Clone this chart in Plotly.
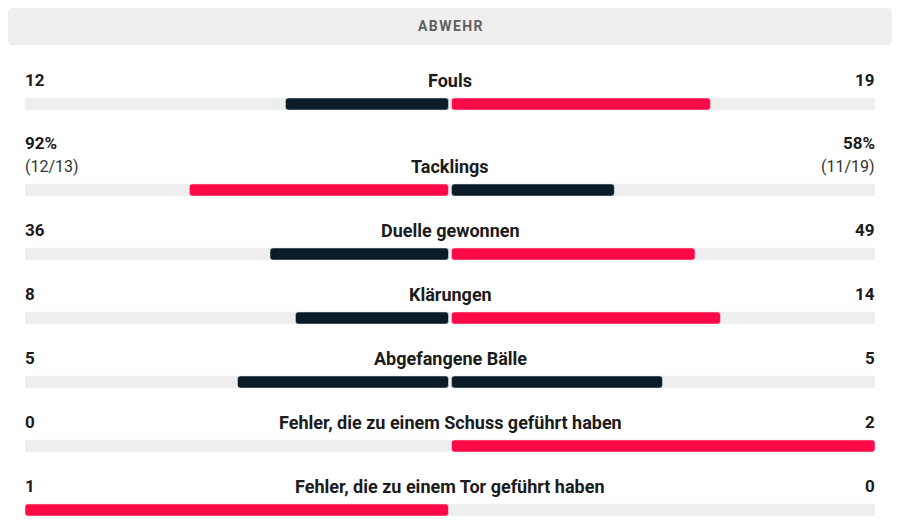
import plotly.graph_objects as go

# ---------------------------------------------------------
# Data
# ---------------------------------------------------------
header = "ABWEHR"
labels = ["Fouls", "Tacklings", "Duelle gewonnen", "Klärungen",
          "Abgefangene Bälle", "Fehler, die zu einem Schuss geführt haben",
          "Fehler, die zu einem Tor geführt haben"]
home_vals = [12, 92, 36, 8, 5, 0, 1]
away_vals = [19, 58, 49, 14, 5, 2, 0]
home_text = ["12", "92%", "36", "8", "5", "0", "1"]
away_text = ["19", "58%", "49", "14", "5", "2", "0"]
home_sub = ["", "(12/13)", "", "", "", "", ""]
away_sub = ["", "(11/19)", "", "", "", "", ""]

# ---------------------------------------------------------
# Layout constants (page pixels; the page body has an 8px margin)
# ---------------------------------------------------------
OFF = 8
W, H = 900 - 2 * OFF, 528 - 2 * OFF
RED = "#ff0a46"
DARK = "#0b1c26"
TRACK = "#eeeeee"
FONT = "Roboto"
bar_y = [104, 190, 254, 318, 382, 446, 510]
gap = 1.5 / 425

fig = go.Figure()

# gray tracks
for side in (-1, 1):
    fig.add_trace(go.Bar(y=bar_y, x=[side] * 7, base=0, orientation="h", width=12,
                         marker=dict(color=TRACK, cornerradius=3), hoverinfo="skip"))

# team bars, shares of the sum
lx, rx, lc, rc = [], [], [], []
for h, a in zip(home_vals, away_vals):
    tot = h + a
    hs = h / tot if tot else 0
    as_ = a / tot if tot else 0
    lx.append(-(hs - gap) if hs > 0 else 0)
    rx.append(as_ - gap if as_ > 0 else 0)
    lc.append(RED if h > a else DARK)
    rc.append(RED if a > h else DARK)

fig.add_trace(go.Bar(y=bar_y, x=lx, base=-gap, orientation="h", width=12,
                     marker=dict(color=lc, cornerradius=3), hoverinfo="skip"))
fig.add_trace(go.Bar(y=bar_y, x=rx, base=gap, orientation="h", width=12,
                     marker=dict(color=rc, cornerradius=3), hoverinfo="skip"))

# text
ann = []
for i, lab in enumerate(labels):
    ty = bar_y[i] - 24
    ann.append(dict(x=0, y=ty, text="<b>%s</b>" % lab, xref="x", yref="y",
                    showarrow=False, xanchor="center", yanchor="middle",
                    font=dict(family=FONT, size=18, color="#1b1b1b")))
    vy = ty - 23 if home_sub[i] else ty
    ann.append(dict(x=-1, y=vy, text="<b>%s</b>" % home_text[i], xref="x", yref="y",
                    showarrow=False, xanchor="left", yanchor="middle", xshift=-2,
                    font=dict(family=FONT, size=17, color="#1b1b1b")))
    ann.append(dict(x=1, y=vy, text="<b>%s</b>" % away_text[i], xref="x", yref="y",
                    showarrow=False, xanchor="right", yanchor="middle", xshift=2,
                    font=dict(family=FONT, size=17, color="#1b1b1b")))
    if home_sub[i]:
        ann.append(dict(x=-1, y=ty, text=home_sub[i], xref="x", yref="y",
                        showarrow=False, xanchor="left", yanchor="middle", xshift=-2,
                        font=dict(family=FONT, size=16, color="#333333")))
        ann.append(dict(x=1, y=ty, text=away_sub[i], xref="x", yref="y",
                        showarrow=False, xanchor="right", yanchor="middle", xshift=2,
                        font=dict(family=FONT, size=16, color="#333333")))

ann.append(dict(x=0.5, y=26, text="<b>%s</b>" % "\u200a".join(header),
                xref="paper", yref="y", showarrow=False,
                font=dict(family=FONT, size=14, color="#5f5f5f")))

# header box with rounded corners (paper x, pixel y)
x0, x1, y0, y1, r = 0.0, 1.0, 8, 45, 5
rx_ = r / W
path = ("M %f,%f L %f,%f Q %f,%f %f,%f L %f,%f Q %f,%f %f,%f L %f,%f Q %f,%f %f,%f "
        "L %f,%f Q %f,%f %f,%f Z") % (
    x0 + rx_, y0, x1 - rx_, y0, x1, y0, x1, y0 + r,
    x1, y1 - r, x1, y1, x1 - rx_, y1,
    x0 + rx_, y1, x0, y1, x0, y1 - r,
    x0, y0 + r, x0, y0, x0 + rx_, y0)

fig.update_layout(
    width=W, height=H,
    margin=dict(l=0, r=0, t=0, b=0),
    paper_bgcolor="white", plot_bgcolor="white",
    barmode="overlay", showlegend=False,
    xaxis=dict(range=[-1, 1], domain=[(25 - OFF) / W, (875 - OFF) / W],
               visible=False, fixedrange=True),
    yaxis=dict(range=[528 - OFF, OFF], visible=False, fixedrange=True),
    annotations=ann,
    shapes=[dict(type="path", path=path, xref="paper", yref="y",
                 fillcolor="#efefef", line=dict(width=0), layer="below")],
)

fig.write_html("out.html", config={"displayModeBar": False})
